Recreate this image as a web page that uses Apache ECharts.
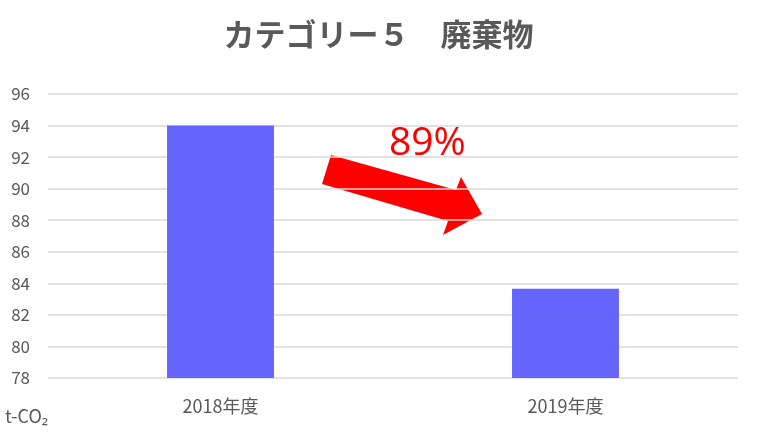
<!DOCTYPE html>
<html>
<head>
<meta charset="utf-8">
<script src="https://cdn.jsdelivr.net/npm/echarts@6/dist/echarts.min.js"></script>
<style>
  html, body { margin: 0; padding: 0; background: #fff; }
  #chart { width: 757px; height: 438px; }
</style>
</head>
<body>
<div id="chart"></div>
<script>
const categories = ['2018年度', '2019年度'];
const emissions = [94.0, 83.66];
const yTicks = { min: 78, max: 96, interval: 2 };
const titleText = 'カテゴリー５　廃棄物';
const ratioLabel = '89%';
const unitLabel = 't-CO₂';

const font = '"Noto Sans CJK JP", "Noto Sans", sans-serif';
const gray = '#595959';

const chart = echarts.init(document.getElementById('chart'), null, { renderer: 'canvas' });

chart.setOption({
  backgroundColor: '#fff',
  animation: false,
  title: {
    text: titleText,
    left: 'center',
    top: 14,
    textStyle: { fontFamily: font, fontSize: 31, fontWeight: 'bold', color: gray },
  },
  grid: { left: 48, right: 19, top: 94, bottom: 60 },
  xAxis: {
    type: 'category',
    data: categories,
    axisLine: { show: false },
    axisTick: { show: false },
    axisLabel: { fontFamily: font, fontSize: 18, color: gray, margin: 19 },
  },
  yAxis: {
    type: 'value',
    min: yTicks.min,
    max: yTicks.max,
    interval: yTicks.interval,
    axisLine: { show: false },
    axisTick: { show: false },
    axisLabel: { fontFamily: font, fontSize: 17, color: gray, margin: 18 },
    splitLine: { lineStyle: { color: '#d9d9d9', width: 1.5 } },
  },
  series: [{
    type: 'bar',
    data: emissions,
    barWidth: '31%',
    itemStyle: { color: '#6666ff' },
  }],
  graphic: [
    {
      type: 'polygon',
      shape: {
        points: [[331, 155], [456, 190], [461, 177], [482, 214], [443, 235], [448, 221], [322, 184]],
      },
      style: { fill: '#ff0000' },
    },
    {
      type: 'text',
      left: 389,
      top: 124,
      style: { text: ratioLabel, fontFamily: '"Open Sans", sans-serif', fontSize: 39, fill: '#ff0000' },
    },
    {
      type: 'text',
      left: 5,
      top: 407,
      style: { text: unitLabel, fontFamily: font, fontSize: 18, fill: gray },
    },
  ],
});
</script>
</body>
</html>
